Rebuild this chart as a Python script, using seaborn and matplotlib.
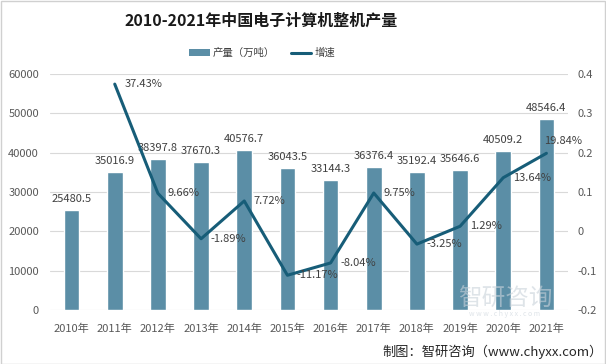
import matplotlib
matplotlib.use("Agg")
import matplotlib.pyplot as plt
import seaborn as sns
import pandas as pd
import numpy as np
from matplotlib.patches import Patch
from matplotlib.lines import Line2D

years = ["2010年", "2011年", "2012年", "2013年", "2014年", "2015年",
         "2016年", "2017年", "2018年", "2019年", "2020年", "2021年"]
output = [25480.5, 35016.9, 38397.8, 37670.3, 40576.7, 36043.5,
          33144.3, 36376.4, 35192.4, 35646.6, 40509.2, 48546.4]
growth = [None, 0.3743, 0.0966, -0.0189, 0.0772, -0.1117,
          -0.0804, 0.0975, -0.0325, 0.0129, 0.1364, 0.1984]
growth_labels = ["", "37.43%", "9.66%", "-1.89%", "7.72%", "-11.17%",
                 "-8.04%", "9.75%", "-3.25%", "1.29%", "13.64%", "19.84%"]
left_ticks = [0, 10000, 20000, 30000, 40000, 50000, 60000]
right_ticks = [-0.2, -0.1, 0, 0.1, 0.2, 0.3, 0.4]

sns.set_theme(style="white")
plt.rcParams['font.family'] = ['Noto Sans CJK SC', 'DejaVu Sans']

BAR = "#5b8ea6"
LINE = "#175d78"
TXT = "#404040"
TICK = "#595959"

fig = plt.figure(figsize=(6.06, 3.64), dpi=100)
fig.patch.set_facecolor("white")
ax = fig.add_axes([50/606, 1-310/364, 518/606, 236/364])

df = pd.DataFrame({"year": years, "output": output})
sns.barplot(data=df, x="year", y="output", color=BAR, width=0.36,
            saturation=1, ax=ax, zorder=2)
ax.set_ylim(0, 60000)
ax.set_yticks(left_ticks)
ax.set_yticklabels([str(t) for t in left_ticks])
ax.set_xlim(-0.5, 11.5)
ax.set_xlabel("")
ax.set_ylabel("")
ax.grid(axis="y", color="#d9d9d9", linewidth=0.8, zorder=0)
for s in ax.spines.values():
    s.set_visible(False)
ax.tick_params(axis="both", length=0, labelsize=8, colors=TICK)
ax.tick_params(axis="x", pad=10)
ax.tick_params(axis="y", pad=8)
for i, v in enumerate(output):
    ax.text(i, v + 1500, f"{v:.1f}", ha="center", va="bottom",
            fontsize=8, color=TXT, zorder=5)

ax2 = ax.twinx()
gdf = pd.DataFrame({"x": list(range(1, 12)), "g": growth[1:]})
sns.lineplot(data=gdf, x="x", y="g", color=LINE, linewidth=2.2, ax=ax2,
             zorder=3)
ax2.set_ylim(-0.2, 0.4)
ax2.set_yticks(right_ticks)
ax2.set_yticklabels(["-0.2", "-0.1", "0", "0.1", "0.2", "0.3", "0.4"])
ax2.set_xlim(-0.5, 11.5)
ax2.set_xlabel("")
ax2.set_ylabel("")
for s in ax2.spines.values():
    s.set_visible(False)
ax2.tick_params(axis="y", length=0, labelsize=8, colors=TICK, pad=6.5)
for i in range(1, 12):
    dx, dy = 0.22, 0.0
    if i == 11:
        dx, dy = -0.06, 0.031
    ax2.text(i + dx, growth[i] + dy, growth_labels[i], ha="left", va="center",
             fontsize=8, color=TXT, zorder=6)

fig.text(261/606, 1-21/364, "2010-2021年中国电子计算机整机产量", ha="center",
         va="center", fontsize=11.5, fontweight="bold", color="#1a1a1a")

handles = [Patch(facecolor=BAR, edgecolor="none"),
           Line2D([0], [0], color=LINE, linewidth=2.2)]
fig.legend(handles, ["产量（万吨）", "增速"], loc="center",
           bbox_to_anchor=(262/606, 1-53/364), ncol=2, frameon=False,
           fontsize=7.5, handlelength=2.0, handleheight=0.6,
           columnspacing=1.5, handletextpad=0.3, labelcolor=TXT)

# watermark
fig.text(505/606, 1-299/364, "智研咨询", ha="center", va="center",
         fontsize=17, color="#c9d2da", alpha=0.6, zorder=0)
fig.text(505/606, 1-314/364, "w w w . c h y x x . c o m", ha="center",
         va="center", fontsize=5, color="#c9d2da", alpha=0.6)
fig.text(0.995, 1-352/364, "制图：智研咨询（www.chyxx.com）", ha="right",
         va="center", fontsize=9.5, color="#262626")

fig.add_artist(plt.Rectangle((0.001, 0.001), 0.997, 0.997, fill=False,
                             edgecolor="#d0d0d0", linewidth=1,
                             transform=fig.transFigure))

fig.savefig("out.png", dpi=100, facecolor="white")
